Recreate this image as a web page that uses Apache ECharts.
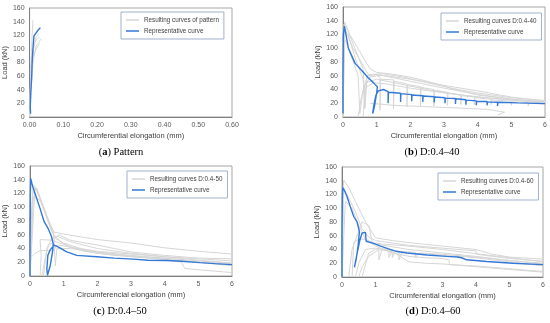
<!DOCTYPE html>
<html><head><meta charset="utf-8">
<script src="https://cdn.jsdelivr.net/npm/echarts@6/dist/echarts.min.js"></script>
<style>html,body{margin:0;padding:0;background:#fff}#c{width:550px;height:323px}</style>
</head><body><div id="c"></div>
<script>
// ---- tick labels / axis ranges ----
const loadTicks = [0, 20, 40, 60, 80, 100, 120, 140, 160];
const patternXTicks = ['0.00','0.10','0.20','0.30','0.40','0.50','0.60'];
const elongXTicks = [0, 1, 2, 3, 4, 5, 6];

// ---- legend / caption texts ----
const legendA = 'Resulting curves of pattern';
const legendB = 'Resulting curves D:0.4-40';
const legendC = 'Resulting curves D:0.4-50';
const legendD = 'Resulting curves D:0.4-60';
const repName = 'Representative curve';

// ---- (a) Pattern ----
const repA = [[0.003,5],[0.002,15],[0.004,40],[0.006,55],[0.008,85],[0.011,107],[0.013,119],[0.02,124],[0.026,128],[0.032,131]];
const gA1 = [[0,0],[0.002,40],[0.005,90],[0.008,125],[0.01,142]];
const gA2 = [[0,0],[0.004,40],[0.01,80],[0.02,105],[0.035,115]];
const gA3 = [[0,0],[0.003,50],[0.008,95],[0.015,110],[0.03,118]];
const gA4 = [[0.002,70],[0.01,90],[0.02,100],[0.03,108]];
const gA5 = [[0,0],[0.005,60],[0.012,100],[0.02,118],[0.028,122]];
const grayA = [gA1, gA2, gA3, gA4, gA5];

// ---- (b) D:0.4-40 ----
const repB = [[0,5],[0,60],[0.01,120],[0.04,132],[0.08,122],[0.16,100],[0.25,90],[0.36,78],[0.55,68],[0.75,57],[0.9,50],[1.02,44],[1.0,35],[0.95,20],[0.9,8],[0.88,5],[0.92,18],[0.98,32],[1.05,38],[1.2,40],
  [1.34,37],[1.34,20],[1.35,36],[1.71,34.5],[1.71,22],[1.72,34],[2.04,32.5],[2.04,23],[2.05,32],[2.37,31],[2.37,22],[2.38,30.5],[2.71,29.5],[2.71,21],[2.72,29],[3.03,28],[3.03,20],[3.04,27.5],
  [3.34,27],[3.34,19],[3.35,26.5],[3.65,25],[3.65,18],[3.66,24.5],[3.96,23.5],[3.96,17],[3.97,23],[4.28,22.5],[4.28,17],[4.29,22],[4.59,21.5],[4.59,16],[4.6,21.5],[5.2,20.5],[6,19.5]];
const gB1 = [[0,0],[0.02,100],[0.05,138],[0.2,120],[0.5,95],[0.8,70],[1.0,65],[1.5,62],[2.0,58],[2.5,52],[3.0,45],[3.5,38],[4.0,32],[5.0,26],[6.0,22]];
const gB2 = [[0,0],[0.03,110],[0.06,128],[0.3,100],[0.6,75],[0.75,62],[1.2,60],[2.0,52],[3.0,42],[4.0,33],[5.0,26],[6.0,21]];
const gB3 = [[0,0],[0.05,125],[0.15,120],[0.4,80],[0.6,55],[0.65,12],[0.7,50],[1.0,55],[1.5,50],[2.5,40],[3.5,32],[4.5,27],[6,20]];
const gB4 = [[0,0],[0.04,115],[0.2,95],[0.45,60],[0.5,5],[0.6,40],[0.9,50],[1.3,48],[2,42],[3,35],[4,29],[5,25],[6,22]];
const gB5 = [[0.6,0],[0.65,45],[0.8,58],[1.0,60],[1.1,58],[1.1,10],[1.12,55],[1.5,54],[1.5,12],[1.52,52],[1.9,48],[1.9,15],[1.92,47],[2.3,44],[2.3,15],[2.32,43],[2.7,40],[2.7,16],[2.72,39],[3.1,36],[3.1,17],[3.12,35],[3.5,32],[3.5,18],[3.52,31],[3.9,29],[3.9,18],[3.92,28],[4.4,26],[4.4,18],[4.42,25],[5.0,23],[5.0,17],[5.02,22],[5.5,21],[5.5,16],[5.52,20],[6,19]];
const gB6 = [[0.45,0],[0.55,30],[0.7,55],[0.9,62],[1.2,63],[1.8,58],[2.5,50],[3.2,42],[4,35],[5,28],[6,24]];
const gB7 = [[0.8,20],[1.5,17],[2.5,15],[3.5,13],[4.3,11],[4.8,7],[4.6,3]];
const gB8 = [[0,0],[0.03,135],[0.15,125],[0.35,100],[0.6,70],[0.65,15],[0.7,60],[1.0,62],[2.0,55],[3,46],[4,38],[5,29],[6,23]];
const grayB = [gB1, gB2, gB3, gB4, gB5, gB6, gB7, gB8];

// ---- (c) D:0.4-50 ----
const repC = [[0,0],[0,60],[0.01,120],[0.02,142],[0.08,130],[0.15,120],[0.3,98],[0.42,79],[0.54,69],[0.64,57],[0.69,47],[0.67,35],[0.6,15],[0.52,1],[0.5,10],[0.53,30],[0.6,38],[0.72,45],[0.89,41],[1.09,35],[1.39,30],[1.98,28],[2.5,26],[3.07,24.5],[3.5,23],[4.06,22.5],[4.5,21.5],[5.05,19.5],[5.5,18],[6,16.5]];
const gC1 = [[0,0],[0.05,100],[0.1,132],[0.25,120],[0.45,95],[0.6,75],[0.7,64],[1.0,61],[1.5,57],[2,53],[3,48],[4,41],[5,36],[6,32]];
const gC2 = [[0,0],[0.08,120],[0.2,128],[0.4,100],[0.6,70],[0.75,55],[1.0,48],[1.5,40],[2,36],[3,32],[4,28],[5,25],[6,22]];
const gC3 = [[0,0],[0.1,115],[0.3,110],[0.5,85],[0.7,60],[0.9,50],[1.2,42],[2,35],[3,30],[4,26],[5,22],[6,18]];
const gC4 = [[0.05,28],[0.15,33],[0.3,37],[0.7,37],[0.8,45],[1.0,44],[1.5,38],[2,33],[3,28],[4,24],[4.5,20],[4.6,11],[5,9],[6,5]];
const gC5 = [[0.3,0],[0.33,30],[0.3,53],[0.7,52],[0.85,60],[1.2,52],[2,45],[2.5,40],[3,35],[4,30],[5,26],[6,25]];
const gC6 = [[0.4,0],[0.5,40],[0.65,55],[0.8,58],[1.2,50],[2,40],[3,33],[4,28],[5,23],[6,19]];
const gC7 = [[0.35,0],[0.45,25],[0.55,45],[0.75,50],[1,46],[1.6,36],[2.5,30],[3.5,27],[4.5,22],[6,16]];
const gC8 = [[0,0],[0.15,130],[0.35,105],[0.55,80],[0.7,65],[0.75,15],[0.8,40],[1.2,40],[2,34],[3,29],[4,26],[5,20],[6,15]];
const grayC = [gC1, gC2, gC3, gC4, gC5, gC6, gC7, gC8];

// ---- (d) D:0.4-60 ----
const repD = [[0,0],[0,60],[0.01,115],[0.02,130],[0.08,125],[0.15,117],[0.25,102],[0.35,88],[0.45,80],[0.52,66],[0.48,45],[0.42,25],[0.37,14],[0.45,34],[0.53,53],[0.6,64],[0.65,66],[0.7,65],[0.72,52],[0.94,49],[1.15,45],[1.39,41],[1.64,37],[1.94,35],[2.54,32],[3.13,30],[3.45,29],[3.57,28],[3.72,25],[4.32,22.5],[5.1,20],[6,18]];
const gD1 = [[0,0],[0.03,120],[0.05,141],[0.2,130],[0.4,110],[0.6,90],[0.8,72],[1.0,57],[1.5,53],[2,50],[3,45],[4,40],[4.5,33],[5,29],[6,26]];
const gD2 = [[0,0],[0.05,130],[0.2,115],[0.4,95],[0.6,70],[0.8,58],[1.0,53],[2,46],[3,42],[4,38],[4.02,33],[5,27],[6,23]];
const gD3 = [[0,0],[0.1,110],[0.3,100],[0.5,75],[0.7,55],[1.0,48],[1.5,44],[2,40],[3,35],[4,30],[5,24],[6,20]];
const gD4 = [[0.3,0],[0.35,50],[0.5,55],[0.7,55],[1.0,45],[1.5,35],[2,30],[2.5,28],[3,27],[3.2,25],[3.2,18],[4,16],[5,12],[6,8]];
const gD5 = [[0.4,0],[0.5,20],[0.7,40],[1.0,42],[1.5,38],[1.5,28],[1.6,38],[2,35],[3,32],[4,28],[5,22],[6,16]];
const gD6 = [[0.5,0],[0.6,15],[0.8,30],[1.1,40],[1.5,37],[2.0,22],[2.5,20],[3,19],[4,15],[5,11],[6,7]];
const gD7 = [[0.2,0],[0.3,40],[0.6,80],[0.8,75],[0.9,50],[1.2,48],[2,45],[3,40],[4,34],[5,28],[6,22]];
const gD8 = [[0.6,0],[0.8,35],[1.0,40],[1.1,42],[1.1,25],[1.2,41],[1.4,40],[1.4,28],[1.5,39],[1.7,38],[1.7,25],[1.8,37],[2.2,36],[2.2,28],[2.3,35],[3,33],[4,29],[5,24],[6,19]];
const grayD = [gD1, gD2, gD3, gD4, gD5, gD6, gD7, gD8];

// ---- styling ----
const BLUE = '#3378d6';
const GRAY = '#d6d6d6';
const FONT = 'Liberation Sans';
const panels = [
  {grid:{left:28, top:8, width:204, height:109}, xmax:0.6, xint:0.1, xfmt:v=>v.toFixed(2), xname:'Circumferential elongation (mm)', grays:grayA, rep:repA, gname:legendA, leg:{left:121, top:12}, cap:{x:121, y:147, t:'a', s:'Pattern'}},
  {grid:{left:343, top:7, width:202, height:110}, xmax:6, xint:1, xfmt:v=>String(v), xname:'Circumferential elongation (mm)', grays:grayB, rep:repB, gname:legendB, leg:{left:441, top:13}, cap:{x:432, y:147, t:'b', s:'D:0.4\u201340'}},
  {grid:{left:30, top:166, width:202, height:110}, xmax:6, xint:1, xfmt:v=>String(v), xname:'Circumferencial elongation (mm)', grays:grayC, rep:repC, gname:legendC, leg:{left:127, top:171}, cap:{x:120, y:306, t:'c', s:'D:0.4\u201350'}},
  {grid:{left:342, top:167, width:201, height:110}, xmax:6, xint:1, xfmt:v=>String(v), xname:'Circumferential elongation (mm)', grays:grayD, rep:repD, gname:legendD, leg:{left:438, top:173}, cap:{x:433, y:306, t:'d', s:'D:0.4\u201360'}}
];

const option = {animation:false, backgroundColor:'#fff', grid:[], xAxis:[], yAxis:[], series:[], legend:[], graphic:[]};
panels.forEach((p, i) => {
  option.grid.push(Object.assign({show:true, borderColor:'#a6a6a6', borderWidth:1, backgroundColor:'#fff'}, p.grid));
  option.xAxis.push({type:'value', gridIndex:i, min:0, max:p.xmax, interval:p.xint,
    name:p.xname, nameLocation:'middle', nameGap:15,
    nameTextStyle:{fontFamily:FONT, fontSize:7.5, color:'#404040'},
    axisLine:{show:true, lineStyle:{color:'#7f7f7f', width:1}}, axisTick:{show:false}, splitLine:{show:false},
    axisLabel:{fontFamily:FONT, fontSize:7, color:'#595959', margin:5, formatter:p.xfmt}});
  option.yAxis.push({type:'value', gridIndex:i, min:loadTicks[0], max:loadTicks[loadTicks.length-1], interval:20,
    name:'Load (kN)', nameLocation:'middle', nameGap:18,
    nameTextStyle:{fontFamily:FONT, fontSize:7.5, color:'#404040'},
    axisLine:{show:true, lineStyle:{color:'#7f7f7f', width:1}}, axisTick:{show:false}, splitLine:{show:false},
    axisLabel:{fontFamily:FONT, fontSize:7, color:'#595959', margin:5}});
  p.grays.forEach(g => option.series.push({type:'line', name:p.gname, xAxisIndex:i, yAxisIndex:i, data:g,
    symbol:'none', silent:true, color:GRAY, lineStyle:{color:GRAY, width:1}, z:2}));
  option.series.push({type:'line', name:repName, xAxisIndex:i, yAxisIndex:i, data:p.rep,
    symbol:'none', silent:true, color:BLUE, lineStyle:{color:BLUE, width:1.4}, z:3});
  option.legend.push({left:p.leg.left, top:p.leg.top, orient:'vertical', data:[p.gname, repName],
    backgroundColor:'#fff', borderColor:'#9fb1cc', borderWidth:1, padding:[5,5,5,5], itemGap:5,
    icon:'rect', itemWidth:13, itemHeight:1.5, selectedMode:false,
    textStyle:{fontFamily:FONT, fontSize:6.3, color:'#404040'}});
  option.graphic.push({type:'text', x:p.cap.x, y:p.cap.y, style:{
    text:'({b|' + p.cap.t + '}) ' + p.cap.s, textAlign:'center',
    font:'10.5px "Liberation Serif"', fill:'#000',
    rich:{b:{fontFamily:'Liberation Serif', fontSize:10.5, fontWeight:'bold', fill:'#000'}}}});
});
const chart = echarts.init(document.getElementById('c'), null, {renderer:'canvas'});
chart.setOption(option);
</script>
</body></html>
